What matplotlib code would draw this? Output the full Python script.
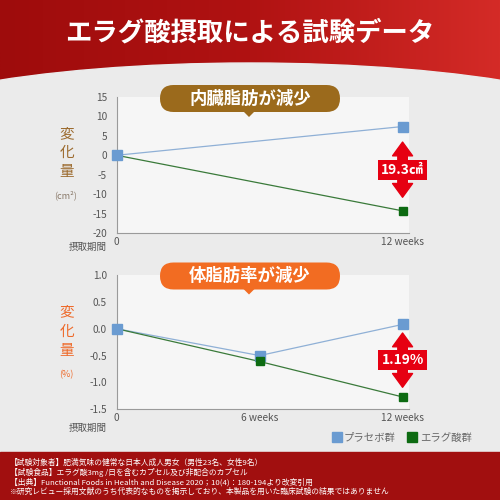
import numpy as np
import matplotlib.pyplot as plt
from matplotlib.patches import FancyBboxPatch, Polygon, Ellipse, Rectangle
from matplotlib.colors import LinearSegmentedColormap
from matplotlib.lines import Line2D

plt.rcParams['font.family'] = ['Noto Sans CJK JP', 'DejaVu Sans']
plt.rcParams['axes.unicode_minus'] = False

# 内臓脂肪 (cm2)
weeks1 = [0, 12]
placebo1 = [0, 7.4]
ellagic1 = [0, -14.3]
diff1 = "19.3㎠"
yticks1 = [15, 10, 5, 0, -5, -10, -15, -20]
xlabels1 = ["0", "12 weeks"]

# 体脂肪率 (%)
weeks2 = [0, 6, 12]
placebo2 = [0, -0.5, 0.08]
ellagic2 = [0, -0.61, -1.27]
diff2 = "1.19%"
yticks2 = [1.0, 0.5, 0.0, -0.5, -1.0, -1.5]
xlabels2 = ["0", "6 weeks", "12 weeks"]

series = ["プラセボ群", "エラグ酸群"]
colors = ["#6a9bd1", "#0d6b12"]
line_colors = ["#8fb0d6", "#3a7a3a"]

title = "エラグ酸摂取による試験データ"
notes = [
    "【試験対象者】肥満気味の健常な日本人成人男女（男性23名、女性9名）",
    "【試験食品】エラグ酸3mg /日を含むカプセル及び非配合のカプセル",
    "【出典】Functional Foods in Health and Disease 2020；10(4)：180-194より改変引用",
    "※研究レビュー採用文献のうち代表的なものを掲示しており、本製品を用いた臨床試験の結果ではありません",
]

bg = "#ebebeb"
panel = "#f6f6f6"
red = "#e60012"

fig = plt.figure(figsize=(5, 5), dpi=100)

# background layer, pixel coords
back = fig.add_axes([0, 0, 1, 1], zorder=0)
back.axis("off")
back.add_patch(Rectangle((0, 0), 500, 500, color=bg, zorder=0))
cmap = LinearSegmentedColormap.from_list("ban", ["#9e0c0c", "#b01212", "#d42b27"])
back.imshow(np.linspace(0, 1, 256).reshape(1, -1), cmap=cmap, extent=(0, 500, 100, 0),
            aspect="auto", zorder=1)
back.add_patch(Ellipse((250, 141), 800, 156, color=bg, zorder=2))
back.add_patch(Rectangle((0, 452), 500, 48, color="#a10f0f", zorder=2))
back.text(250, 33, title, color="white", fontsize=19, fontweight="bold", ha="center", va="center", zorder=3)
for i, line in enumerate(notes):
    back.text(10, 463 + i * 9.7, line, color="white", fontsize=5.6, ha="left", va="center", zorder=3)
back.set_xlim(0, 500); back.set_ylim(500, 0)


def chart(rect, x, ys, yticks, xlabels, fmt, diff, gaps):
    ax = fig.add_axes(rect, zorder=2)
    ax.set_facecolor(panel)
    ax.plot(x, ys[0], color=line_colors[0], lw=0.9, zorder=3)
    ax.plot(x, ys[1], color=line_colors[1], lw=0.9, zorder=3)
    ax.plot(x, ys[0], ls="none", marker="s", ms=7, color=colors[0], clip_on=False, zorder=4)
    ax.plot(x[1:], ys[1][1:], ls="none", marker="s", ms=6.3, color=colors[1], clip_on=False, zorder=5)
    ax.set_xlim(0, 12.27)
    ax.set_ylim(yticks[-1], yticks[0])
    ax.set_yticks(yticks)
    ax.set_yticklabels([fmt.format(v) for v in yticks])
    ax.set_xticks(x)
    ax.set_xticklabels(xlabels)
    ax.tick_params(length=0, labelsize=7.3, colors="#555555")
    ax.tick_params(axis="y", pad=7)
    ax.tick_params(axis="x", pad=3)
    for s in ["top", "right"]:
        ax.spines[s].set_visible(False)
    for s in ["left", "bottom"]:
        ax.spines[s].set_color("#9a9a9a")
    # difference arrow
    top = ys[0][-1] - gaps[0]
    bot = ys[1][-1] + gaps[1]
    mid = (top + bot) / 2
    st = "simple,head_width=0.8,head_length=0.55,tail_width=0.38"
    for end in (top, bot):
        ax.annotate("", xy=(x[-1], end), xytext=(x[-1], mid),
                    arrowprops=dict(arrowstyle=st, color=red, mutation_scale=18,
                                    shrinkA=0, shrinkB=0), zorder=6)
    ax.text(x[-1], mid, diff, color="white", fontsize=10, fontweight="bold",
            ha="center", va="center", zorder=7,
            bbox=dict(boxstyle="square,pad=0.22", fc=red, ec="none"))
    return ax


ax1 = chart([116.7 / 500, 1 - 233 / 500, 292.3 / 500, 136 / 500], weeks1,
            [placebo1, ellagic1], yticks1, xlabels1, "{:g}", diff1, (4, 3.5))
ax2 = chart([116.7 / 500, 1 - 409.3 / 500, 292.3 / 500, 134.3 / 500], weeks2,
            [placebo2, ellagic2], yticks2, xlabels2, "{:.1f}", diff2, (0.16, 0.18))

# overlay layer
over = fig.add_axes([0, 0, 1, 1], zorder=5)
over.axis("off")
over.patch.set_alpha(0)


def callout(y0, text, color):
    over.add_patch(FancyBboxPatch((160, y0), 180, 27, boxstyle="round,pad=0,rounding_size=13.5",
                                  fc=color, ec="none"))
    over.add_patch(Polygon([(243, y0 + 26), (255, y0 + 26), (249, y0 + 32)], fc=color, ec="none"))
    over.text(250, y0 + 13.5, text, color="white", fontsize=12.5, fontweight="bold",
              ha="center", va="center")


callout(85, "内臓脂肪が減少", "#9b6a1c")
callout(262.5, "体脂肪率が減少", "#f26c22")

over.text(67, 153, "変\n化\n量", color="#9c6b2e", fontsize=10.5, ha="center", va="center", linespacing=1.45)
over.text(66, 195, "(cm²)", color="#8a7a6a", fontsize=6.5, ha="center", va="center")
over.text(67, 332, "変\n化\n量", color="#ee6a2a", fontsize=10.5, ha="center", va="center", linespacing=1.5)
over.text(66, 375, "(%)", color="#ee6a2a", fontsize=6.5, ha="center", va="center")
over.text(88, 247, "摂取期間", color="#555555", fontsize=6.8, ha="center", va="center")
over.text(88, 428, "摂取期間", color="#555555", fontsize=6.8, ha="center", va="center")
over.set_xlim(0, 500); over.set_ylim(500, 0)

handles = [Line2D([], [], marker="s", ls="none", color=c, ms=7) for c in colors]
fig.legend(handles, series, loc="center left", bbox_to_anchor=(323 / 500, 1 - 438 / 500),
           ncol=2, frameon=False, fontsize=7.5, handlelength=0.8, handletextpad=0.3,
           columnspacing=1.2, labelcolor="#666666")

fig.savefig("out.png", dpi=100)
